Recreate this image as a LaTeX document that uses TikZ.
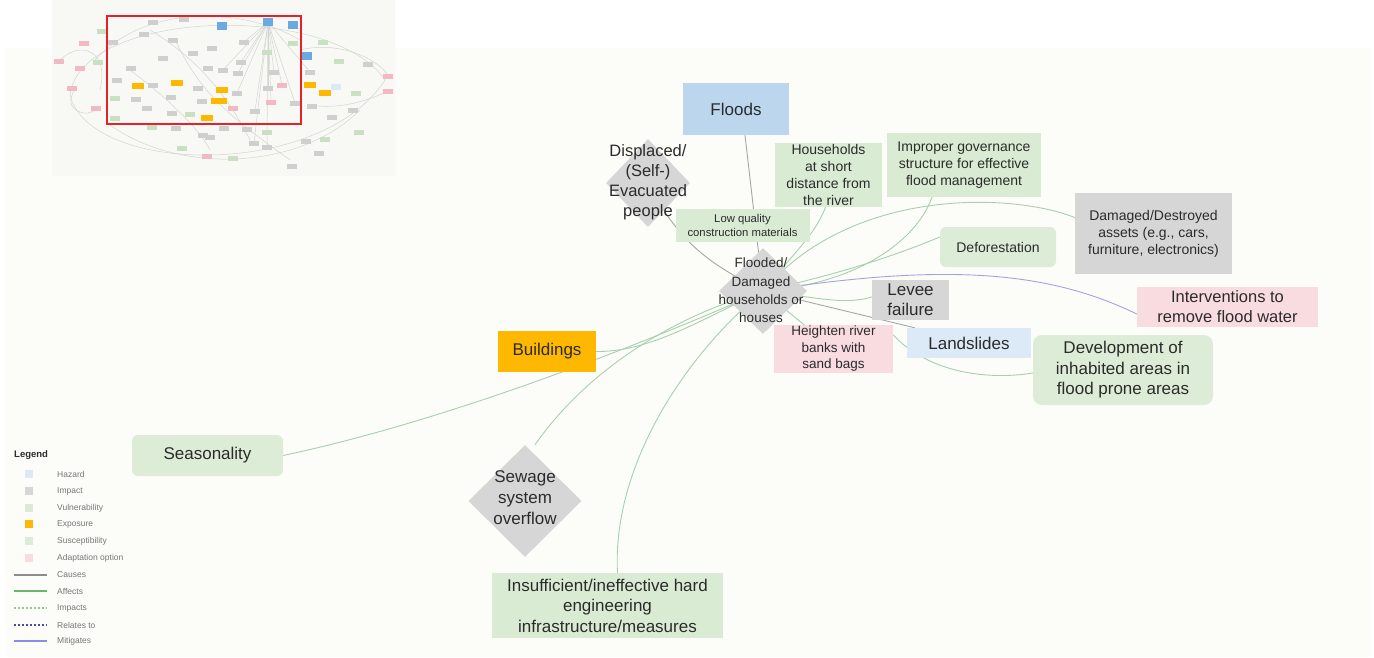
\documentclass[tikz,border=0pt]{standalone}
\usepackage{fontspec}
\setmainfont{Liberation Sans}
\usetikzlibrary{shapes.geometric}
\pgfdeclarelayer{bg}
\pgfdeclarelayer{edges}
\pgfsetlayers{bg,edges,main}

\definecolor{panel}{HTML}{FCFDF8}
\definecolor{minibg}{HTML}{F8F9F4}
\definecolor{txt}{HTML}{2B2B2B}
\definecolor{hazard}{HTML}{BCD6EE}
\definecolor{hazardlt}{HTML}{DCE9F7}
\definecolor{impact}{HTML}{D6D6D6}
\definecolor{vuln}{HTML}{DAEBD4}
\definecolor{expo}{HTML}{FFB800}
\definecolor{suscep}{HTML}{DDECD6}
\definecolor{adapt}{HTML}{F9DCE0}
\definecolor{causes}{HTML}{A6A6A6}
\definecolor{affects}{HTML}{A9CFB0}
\definecolor{mitig}{HTML}{A3A3DC}
\definecolor{legtxt}{HTML}{777777}
\definecolor{frame}{HTML}{E8202A}
\definecolor{minigray}{HTML}{CFCFCF}
\definecolor{minigreen}{HTML}{C9E0C2}
\definecolor{minipink}{HTML}{F2B9C2}
\definecolor{miniblue}{HTML}{6AAAE0}
\definecolor{minilink}{HTML}{D2D6D0}
\definecolor{legcause}{HTML}{8C8C8C}
\definecolor{legaffect}{HTML}{6DB36D}
\definecolor{legimpact}{HTML}{8FCB8F}
\definecolor{legrelate}{HTML}{4A4AA8}
\definecolor{legmitig}{HTML}{8C8CE6}

\tikzset{
  x=1pt, y=-1pt,
  box/.style={rectangle, inner sep=0pt, align=center, text=txt},
  rbox/.style={box, rounded corners=6pt},
  ddiam/.style={diamond, inner sep=0pt, fill=impact, draw=none},
  dtext/.style={align=center, text=txt, inner sep=0pt},
  fs/.style={font=\fontsize{#1}{#1}\selectfont},
  causeline/.style={draw=causes, line width=0.9pt},
  affectline/.style={draw=affects, line width=0.9pt},
  mitline/.style={draw=mitig, line width=0.9pt},
  leglab/.style={anchor=west, inner sep=0pt, text=legtxt, font=\fontsize{8.5}{10}\selectfont},
  legsq/.style={minimum size=8pt, inner sep=0pt},
  legline/.style={line width=1.1pt},
}

\begin{document}
\begin{tikzpicture}
\useasboundingbox (0,0) rectangle (1374,657);

% ---------- backgrounds ----------
\begin{pgfonlayer}{bg}
  \fill[white] (0,0) rectangle (1374,657);
  \fill[panel] (6,48) rectangle (1370,657);
  \fill[minibg] (52,0) rectangle (395,176);
\end{pgfonlayer}

% ---------- overview thumbnail ----------
\begin{scope}
  \begin{scope}[draw=minilink, line width=0.5pt]
    \draw (70,95) .. controls (80,10) and (330,0) .. (385,80);
    \draw (70,95) .. controls (90,175) and (320,180) .. (385,80);
    \draw (95,60) .. controls (150,0) and (250,10) .. (300,40);
    \draw (110,125) .. controls (180,175) and (300,170) .. (360,110);
    \draw (60,60) .. controls (80,40) and (110,50) .. (100,90);
    \draw (75,90) .. controls (60,110) and (90,120) .. (96,108);
    \draw (300,50) .. controls (340,40) and (380,60) .. (388,76);
    \draw (310,105) .. controls (340,110) and (370,100) .. (388,91);
    \draw (150,30) .. controls (200,60) and (230,100) .. (250,140);
    \draw (130,70) .. controls (170,100) and (200,130) .. (210,150);
    \draw (175,40) .. controls (200,90) and (220,110) .. (290,160);
  \end{scope}
  \foreach \px/\py in {244/42,241/62,238/73,274/72,268/88,255/111,295/103,237/93,223/70,310/72,282/85,271/102,254/143,267/147}
    \draw[minilink, line width=0.5pt] (268,22) -- (\px,\py);
  \foreach \px/\py in {153/22,184/19,144/34,173/40,113/42,193/53,163/58,212/48,244/42,241/62,208/68,223/70,238/73,274/72,131/68,117/80,153/85,198/88,171/97,136/99,202/101,237/93,268/88,147/108,172/113,255/111,295/103,310/72,312/106,368/64,353/110,332/117,176/128,203/135,224/128,247/129,254/143,267/147,306/141,319/153,292/166,210/137}
    \fill[minigray] (\px-5,\py-2.5) rectangle (\px+5,\py+2.5);
  \foreach \px/\py in {102/31,98/62,115/98,115/118,293/43,323/42,339/61,267/52,356/93,359/132,325/139,267/132,182/148,233/158,152/127,190/114}
    \fill[minigreen] (\px-5,\py-2.5) rectangle (\px+5,\py+2.5);
  \foreach \px/\py in {84/43,59/61,80/68,72/88,96/108,282/85,271/102,233/108,388/76,388/91,207/156}
    \fill[minipink] (\px-5,\py-2.5) rectangle (\px+5,\py+2.5);
  \foreach \px/\py in {222/26,268/22,293/25,307/56}
    \fill[miniblue] (\px-5,\py-4) rectangle (\px+5,\py+4);
  \fill[hazardlt] (331,84) rectangle (341,90);
  \foreach \px/\py in {138/86,177/83,222/90,207/118,310/85,325/93}
    \fill[expo] (\px-6,\py-3) rectangle (\px+6,\py+3);
  \fill[expo] (211,98) rectangle (227,104);
  \draw[frame, line width=2pt] (107,16) rectangle (301,124);
\end{scope}

% ---------- main nodes ----------
\node[box, fill=hazard, minimum width=106pt, minimum height=52pt, fs=17] (floods) at (736,109) {Floods};

\node[ddiam, minimum width=84pt, minimum height=88pt] (displaced) at (648,183) {};
\node[dtext, font=\fontsize{16.5}{20}\selectfont] (displacedtxt) at (648,182) {Displaced/\\(Self-)\\Evacuated\\people};

\node[box, fill=vuln, minimum width=107pt, minimum height=64pt, font=\fontsize{14}{17}\selectfont] (house) at (828.5,175) {Households\\at short\\distance from\\the river};
\node[box, fill=vuln, minimum width=154pt, minimum height=64pt, font=\fontsize{14}{17}\selectfont] (improper) at (964,165) {Improper governance\\structure for effective\\flood management};
\node[box, fill=vuln, minimum width=134pt, minimum height=33pt, font=\fontsize{11.3}{14}\selectfont] (lowq) at (742.5,225) {Low quality\\construction materials};

\node[rbox, fill=suscep, minimum width=116pt, minimum height=40pt, fs=14] (deforest) at (998,247) {Deforestation};
\node[box, fill=impact, minimum width=157pt, minimum height=81pt, font=\fontsize{14}{17}\selectfont] (damaged) at (1153.5,233.5) {Damaged/Destroyed\\assets (e.g., cars,\\furniture, electronics)};

\node[ddiam, minimum width=88pt, minimum height=86pt] (flooded) at (763,291) {};
\node[dtext, font=\fontsize{13.5}{18.3}\selectfont] (floodedtxt) at (761,290.5) {Flooded/\\Damaged\\households or\\houses};

\node[box, fill=impact, minimum width=77pt, minimum height=40pt, font=\fontsize{17}{20}\selectfont] (levee) at (910.5,300) {Levee\\failure};
\node[box, fill=adapt, minimum width=181pt, minimum height=40pt, font=\fontsize{16.5}{20}\selectfont] (interv) at (1227.5,307) {Interventions to\\remove flood water};
\node[box, fill=hazardlt, minimum width=124pt, minimum height=30pt, fs=17] (landslides) at (969,343) {Landslides};
\node[box, fill=adapt, minimum width=119pt, minimum height=48pt, font=\fontsize{13.5}{16.5}\selectfont] (heighten) at (833.5,349) {Heighten river\\banks with\\sand bags};
\node[rbox, fill=suscep, minimum width=180pt, minimum height=70pt, rounded corners=9pt, font=\fontsize{17}{20.5}\selectfont] (develop) at (1123,370) {Development of\\inhabited areas in\\flood prone areas};

\node[box, fill=expo, minimum width=98pt, minimum height=41pt, fs=17] (buildings) at (547,351.5) {Buildings};
\node[rbox, fill=suscep, minimum width=151pt, minimum height=41pt, fs=17] (season) at (207.5,455.5) {Seasonality};

\node[ddiam, minimum width=113pt, minimum height=112pt] (sewage) at (525,501) {};
\node[dtext, font=\fontsize{17}{21}\selectfont] (sewagetxt) at (525,498) {Sewage\\system\\overflow};

\node[box, fill=vuln, minimum width=231pt, minimum height=65pt, font=\fontsize{17}{20.5}\selectfont] (insuff) at (607.5,605.5) {Insufficient/ineffective hard\\engineering\\infrastructure/measures};

% ---------- connectors ----------
\begin{pgfonlayer}{edges}
  \path[causeline] ([xshift=9pt]floods.south) -- (flooded.center);
  \path[causeline] (displaced.center) .. controls (680,245) and (712,265) .. (flooded.center);
  \path[affectline] ([xshift=-3pt]house.south) .. controls (815,235) and (792,255) .. (flooded.center);
  \path[affectline] ([xshift=-32pt]improper.south) .. controls (915,245) and (850,285) .. (flooded.center);
  \path[affectline] (flooded.center) .. controls (850,188) and (1010,192) .. ([yshift=16pt]damaged.west);
  \path[affectline] ([yshift=10pt]deforest.west) .. controls (880,262) and (820,278) .. (flooded.center);
  \path[mitline] ([yshift=-7pt]interv.west) .. controls (1050,272) and (950,262) .. (flooded.center);
  \path[affectline] ([yshift=3pt]levee.west) .. controls (845,305) and (820,298) .. (flooded.center);
  \path[causeline] ([xshift=8pt]landslides.north west) -- (flooded.center);
  \path[affectline] (heighten.center) -- (flooded.center);
  \path[affectline] ([yshift=-3pt]develop.west) .. controls (990,380) and (930,374) .. ([yshift=14pt]heighten.east);
  \path[affectline] (buildings.east) .. controls (650,352) and (700,320) .. (flooded.center);
  \path[affectline] (season.east) .. controls (450,420) and (640,345) .. (flooded.center);
  \path[affectline] ([xshift=10pt]sewage.north) .. controls (580,380) and (660,320) .. (flooded.center);
  \path[affectline] ([xshift=10pt]insuff.north) .. controls (612,470) and (680,360) .. (flooded.center);
\end{pgfonlayer}

% ---------- legend ----------
\node[anchor=west, inner sep=0pt, text=txt, font=\fontsize{9.5}{11}\selectfont\bfseries] (legtitle) at (14,455) {Legend};
\node[legsq, fill=hazardlt] (lhaz) at (29,474) {};
\node[leglab] at (57,474) {Hazard};
\node[legsq, fill=impact] (limp) at (29,491) {};
\node[leglab] at (57,491) {Impact};
\node[legsq, fill=vuln] (lvul) at (29,508) {};
\node[leglab] at (57,508) {Vulnerability};
\node[legsq, fill=expo] (lexp) at (29,524) {};
\node[leglab] at (57,524) {Exposure};
\node[legsq, fill=suscep] (lsus) at (29,541) {};
\node[leglab] at (57,541) {Susceptibility};
\node[legsq, fill=adapt] (lada) at (29,558) {};
\node[leglab] at (57,558) {Adaptation option};
\coordinate (c1a) at (14,575); \coordinate (c1b) at (47,575);
\draw[legline, legcause] (c1a) -- (c1b);
\node[leglab] at (57,575) {Causes};
\coordinate (c2a) at (14,591); \coordinate (c2b) at (47,591);
\draw[legline, legaffect] (c2a) -- (c2b);
\node[leglab] at (57,591) {Affects};
\coordinate (c3a) at (14,608); \coordinate (c3b) at (47,608);
\draw[legline, legimpact, dash pattern=on 2pt off 2pt] (c3a) -- (c3b);
\node[leglab] at (57,608) {Impacts};
\coordinate (c4a) at (14,625); \coordinate (c4b) at (47,625);
\draw[legline, legrelate, dash pattern=on 2pt off 2pt] (c4a) -- (c4b);
\node[leglab] at (57,625) {Relates to};
\coordinate (c5a) at (14,641); \coordinate (c5b) at (47,641);
\draw[legline, legmitig] (c5a) -- (c5b);
\node[leglab] at (57,641) {Mitigates};
\end{tikzpicture}
\end{document}
